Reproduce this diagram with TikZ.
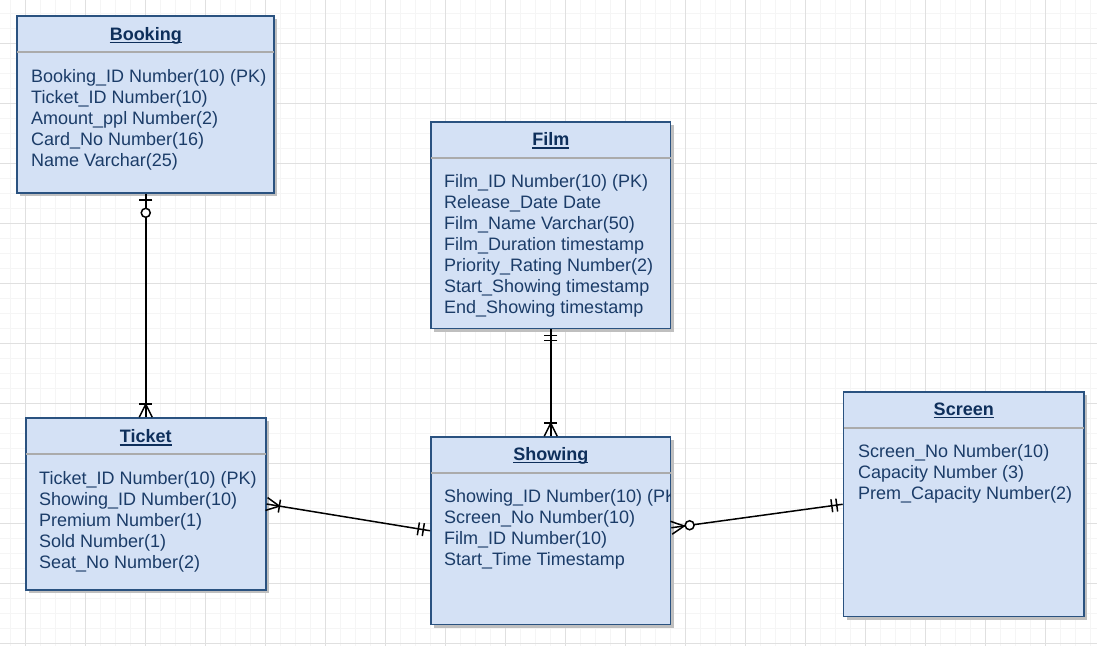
\documentclass[tikz,border=0pt]{standalone}
\usepackage{fontspec}
\setmainfont{Liberation Sans}
\usetikzlibrary{calc,shadows}
\definecolor{boxfill}{HTML}{D4E1F5}
\definecolor{boxline}{HTML}{2A5280}
\definecolor{txt}{HTML}{1B3C68}
\definecolor{ttl}{HTML}{0E2F5B}
\definecolor{gridmaj}{HTML}{E0E0E0}
\definecolor{gridmin}{HTML}{F5F5F5}
\definecolor{sepcol}{HTML}{ABABAB}
\tikzset{
  ebox/.style={draw=boxline, line width=1.6pt, fill=boxfill, rectangle, inner sep=0,
    drop shadow={shadow xshift=3pt, shadow yshift=-3pt, fill=black!25, opacity=1}},
  attr/.style={font=\fontsize{18}{21}\selectfont, text=txt, inner sep=0, anchor=base west},
  ttlnode/.style={font=\fontsize{18}{21}\selectfont\bfseries, text=ttl, inner sep=0, anchor=base},
  uline/.style={draw=ttl, line width=1.3pt},
  sepline/.style={draw=sepcol, line width=1.6pt},
  conn/.style={draw=black, line width=1.5pt},
  gmin/.style={draw=gridmin, line width=0.9pt},
  gmaj/.style={draw=gridmaj, line width=0.9pt}
}
\newcommand\ERbar[3]{\coordinate (tmpB) at ($(#1)!#3!(#2)$);
  \draw[conn] ($(tmpB)!6.5pt!90:(#2)$) -- ($(tmpB)!6.5pt!-90:(#2)$);}
\newcommand\ERcrow[2]{\coordinate (tmpH) at ($(#1)!13pt!(#2)$);
  \draw[conn] ($(#1)!6.5pt!90:(#2)$) -- (tmpH) -- ($(#1)!6.5pt!-90:(#2)$);}
\newcommand\ERcirc[3]{\coordinate (tmpC) at ($(#1)!#3!(#2)$);
  \draw[conn, fill=white] (tmpC) circle[radius=4.5pt];}
\begin{document}
\begin{tikzpicture}[x=1pt,y=-1pt]
\useasboundingbox (0,0) rectangle (1097,646);
\fill[white] (0,0) rectangle (1097,646);
% grid
\foreach \x in {10,25,...,1097} \draw[gmin] (\x,0) -- (\x,646);
\foreach \y in {13,28,...,646} \draw[gmin] (0,\y) -- (1097,\y);
\foreach \x in {25,85,...,1097} \draw[gmaj] (\x,0) -- (\x,646);
\foreach \y in {43,103,...,646} \draw[gmaj] (0,\y) -- (1097,\y);

% boxes
\node[ebox, minimum width=257pt, minimum height=177pt] (booking) at (145.75,104.5) {};
\node[ebox, minimum width=239.5pt, minimum height=206.5pt] (film) at (550.75,225.25) {};
\node[ebox, minimum width=240pt, minimum height=172pt] (ticket) at (145.75,504) {};
\node[ebox, minimum width=239.5pt, minimum height=187.5pt] (showing) at (550.75,530.75) {};
\node[ebox, minimum width=240.5pt, minimum height=224.5pt] (screen) at (963.75,504.25) {};

% separators
\foreach \b in {booking,film,ticket,showing,screen}
  \draw[sepline] ($(\b.north west)+(0.8,37)$) -- ($(\b.north east)+(-0.8,37)$);

% titles
\node[ttlnode] (bk-t) at (145.75,40) {Booking};
\node[ttlnode] (fm-t) at (550.75,145.5) {Film};
\node[ttlnode] (tk-t) at (145.75,442.5) {Ticket};
\node[ttlnode] (sh-t) at (550.75,460) {Showing};
\node[ttlnode] (sc-t) at (963.75,415) {Screen};
\foreach \t in {bk-t,fm-t,tk-t,sh-t,sc-t}
  \draw[uline] ([yshift=-2.6pt]\t.base west) -- ([yshift=-2.6pt]\t.base east);

% attributes
\foreach \t [count=\i from 0] in {Booking\_ID Number(10) (PK), Ticket\_ID Number(10), Amount\_ppl Number(2), Card\_No Number(16), Name Varchar(25)}
  \node[attr] (bk-a\i) at (31,{82+21*\i}) {\t};
\foreach \t [count=\i from 0] in {Film\_ID Number(10) (PK), Release\_Date Date, Film\_Name Varchar(50), Film\_Duration timestamp, Priority\_Rating Number(2), Start\_Showing timestamp, End\_Showing timestamp}
  \node[attr] (fm-a\i) at (444,{187.5+21*\i}) {\t};
\foreach \t [count=\i from 0] in {Ticket\_ID Number(10) (PK), Showing\_ID Number(10), Premium Number(1), Sold Number(1), Seat\_No Number(2)}
  \node[attr] (tk-a\i) at (39,{484.5+21*\i}) {\t};
\begin{scope}
\clip ($(showing.south west)+(0,0)$) rectangle ($(showing.north east)+(-1,0)$);
\foreach \t [count=\i from 0] in {Showing\_ID Number(10) (PK), Screen\_No Number(10), Film\_ID Number(10), Start\_Time Timestamp}
  \node[attr] (sh-a\i) at (444,{502+21*\i}) {\t};
\end{scope}
\foreach \t [count=\i from 0] in {Screen\_No Number(10), Capacity Number (3), Prem\_Capacity Number(2)}
  \node[attr] (sc-a\i) at (858,{457+21*\i}) {\t};

% connectors
\draw[conn] (booking.south) -- (ticket.north);
\ERbar{booking.south}{ticket.north}{6pt}
\ERcirc{booking.south}{ticket.north}{19pt}
\ERcrow{ticket.north}{booking.south}
\ERbar{ticket.north}{booking.south}{13pt}

\draw[conn] (film.south) -- (showing.north);
\ERbar{film.south}{showing.north}{6pt}
\ERbar{film.south}{showing.north}{11pt}
\ERcrow{showing.north}{film.south}
\ERbar{showing.north}{film.south}{13pt}

\draw[conn] (ticket.east) -- (showing.west);
\ERcrow{ticket.east}{showing.west}
\ERbar{ticket.east}{showing.west}{13pt}
\ERbar{showing.west}{ticket.east}{7pt}
\ERbar{showing.west}{ticket.east}{12pt}

\coordinate (shE) at ([yshift=3pt]showing.east);
\draw[conn] (shE) -- (screen.west);
\ERcrow{shE}{screen.west}
\ERcirc{shE}{screen.west}{18.5pt}
\ERbar{screen.west}{shE}{6pt}
\ERbar{screen.west}{shE}{11pt}
\end{tikzpicture}
\end{document}
